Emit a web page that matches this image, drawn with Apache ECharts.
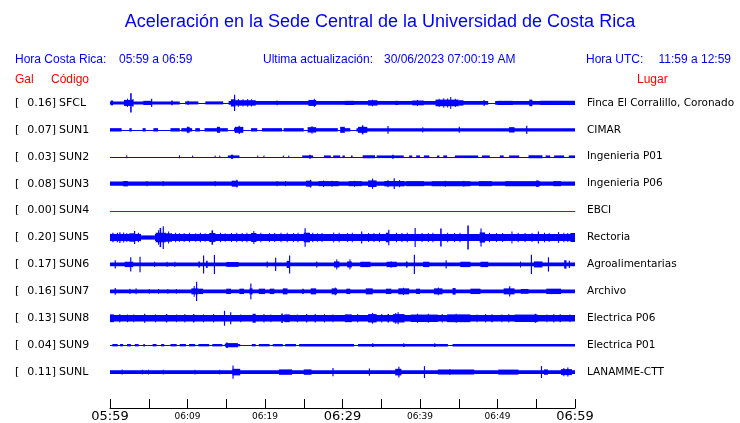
<!DOCTYPE html>
<html>
<head>
<meta charset="utf-8">
<script src="https://cdn.jsdelivr.net/npm/echarts@6/dist/echarts.min.js"></script>
<style>
  html, body { margin: 0; padding: 0; background: #fff; }
  #acel { width: 740px; height: 423px; }
</style>
</head>
<body>
<div id="acel"></div>
<script>
// estaciones
var codes = ['SFCL', 'SUN1', 'SUN2', 'SUN3', 'SUN4', 'SUN5', 'SUN6', 'SUN7', 'SUN8', 'SUN9', 'SUNL'];
var peakGal = [0.16, 0.07, 0.03, 0.08, 0.00, 0.20, 0.17, 0.16, 0.13, 0.04, 0.11];
var places = ['Finca El Corralillo, Coronado', 'CIMAR', 'Ingenieria P01', 'Ingenieria P06', 'EBCI',
  'Rectoria', 'Agroalimentarias', 'Archivo', 'Electrica P06', 'Electrica P01', 'LANAMME-CTT'];

// etiquetas del eje de tiempo (cada 10 min)
var timeLabels = ['05:59', '06:09', '06:19', '06:29', '06:39', '06:49', '06:59'];
var bigLabels = ['05:59', '06:29', '06:59'];

// envolvente de cada traza: [min inicio, min fin, amplitud (gal)]
var sfcl = [[0, 60, 0],
  [0, 9, 0.025], [9.7, 11.4, 0.025], [12.3, 14.6, 0.025], [15.3, 48.8, 0.03], [49.7, 60, 0.03],
  [0.1, 0.4, 0.04], [1.8, 3.0, 0.05], [2.2, 2.3, 0.07], [2.6, 2.8, 0.16], [2.9, 3.0, 0.065],
  [4.3, 5.4, 0.035], [5.3, 5.45, 0.07], [7.9, 8.1, 0.04], [10.0, 10.15, 0.035],
  [15.6, 16.2, 0.06], [16.0, 16.15, 0.135], [16.2, 18.8, 0.045], [16.5, 16.6, 0.065], [17.1, 17.2, 0.06],
  [17.7, 17.8, 0.065], [18.2, 18.3, 0.06], [21.5, 21.6, 0.04], [25.6, 26.6, 0.05], [26.3, 26.4, 0.07],
  [30.3, 31.5, 0.035], [33.3, 34.5, 0.045], [33.8, 33.9, 0.055], [36.8, 37.2, 0.035], [39.0, 40.5, 0.04],
  [39.6, 39.7, 0.05], [42.0, 45.0, 0.055], [42.4, 42.5, 0.07], [43.0, 43.1, 0.08], [43.5, 43.6, 0.075],
  [43.9, 44.0, 0.1], [44.5, 44.6, 0.07], [45.0, 45.6, 0.045], [48.2, 48.35, 0.05],
  [50.0, 52.0, 0.035], [54.1, 54.5, 0.055], [55.5, 60, 0.035]];
var sun1 = [[0, 60, 0],
  [0, 1.5, 0.028], [2.5, 2.8, 0.028], [4.2, 4.6, 0.028], [5.6, 6.2, 0.028], [7.8, 9.0, 0.028],
  [9.2, 10.6, 0.028], [11.0, 11.6, 0.028], [12.2, 15.2, 0.028], [16.0, 16.6, 0.028], [18.2, 19.0, 0.028],
  [19.6, 22.2, 0.028], [22.4, 25.0, 0.028], [25.6, 29.4, 0.028], [29.8, 31.0, 0.028], [31.8, 60, 0.028],
  [9.9, 10.3, 0.045], [10.0, 10.1, 0.055], [13.8, 14.2, 0.05], [16.1, 17.2, 0.05], [16.6, 16.75, 0.07],
  [25.5, 26.6, 0.045], [26.0, 26.1, 0.065], [29.7, 30.3, 0.05], [32.0, 33.2, 0.05], [32.5, 32.7, 0.075],
  [35.8, 35.95, 0.065], [40.3, 40.4, 0.045], [45.0, 45.15, 0.05], [51.5, 52.2, 0.045], [53.7, 53.85, 0.07]];
var sun2 = [[0, 60, 0],
  [2.1, 2.2, 0.025], [8.9, 9.0, 0.025], [10.6, 10.7, 0.02], [13.5, 13.6, 0.02], [14.1, 14.2, 0.02],
  [15.2, 16.7, 0.022], [15.6, 15.9, 0.035], [19.0, 19.1, 0.02], [19.8, 19.9, 0.02], [22.3, 22.4, 0.02],
  [23.0, 23.1, 0.02], [24.8, 26.2, 0.022], [25.7, 25.9, 0.035], [27.6, 28.5, 0.022], [28.8, 29.7, 0.022],
  [30.0, 30.3, 0.022], [31.1, 31.3, 0.022], [32.6, 34.2, 0.025], [34.4, 37.9, 0.022], [36.4, 36.6, 0.035],
  [38.6, 39.0, 0.022], [39.5, 40.0, 0.022], [40.5, 41.2, 0.022], [42.2, 42.5, 0.022], [43.0, 43.5, 0.022],
  [44.5, 47.5, 0.022], [48.0, 49.0, 0.022], [50.3, 50.8, 0.022], [51.5, 52.8, 0.022], [54.0, 55.8, 0.025],
  [56.2, 56.8, 0.022], [57.3, 58.6, 0.022], [59.2, 60, 0.022]];
var sun3 = [[0, 60, 0],
  [0, 60, 0.035],
  [1.7, 2.3, 0.045], [4.7, 4.8, 0.045], [6.8, 6.9, 0.045], [13.5, 13.6, 0.045], [15.7, 16.5, 0.05],
  [16.3, 16.45, 0.065], [21.5, 21.6, 0.045], [22.6, 22.7, 0.045], [25.3, 26.0, 0.05], [25.8, 25.95, 0.065],
  [26.9, 29.5, 0.042], [27.5, 27.6, 0.055], [28.6, 28.7, 0.05], [30.8, 32.5, 0.042], [31.5, 31.6, 0.05],
  [33.3, 34.4, 0.055], [33.8, 33.95, 0.085], [35.4, 38.0, 0.045], [35.8, 35.9, 0.06], [36.6, 36.75, 0.09],
  [37.3, 37.4, 0.06], [38.2, 40.5, 0.042], [41.5, 46.5, 0.042], [43.2, 43.3, 0.05], [45.6, 45.7, 0.05],
  [47.6, 49.3, 0.042], [51.0, 55.5, 0.042], [55.0, 55.3, 0.055], [57.2, 58.2, 0.042]];
var sun4 = [[0, 60, 0]];
var sun5 = [[0, 60, 0],
  [0, 4, 0.06], [4, 5.8, 0.035], [5.8, 60, 0.06],
  [0.3, 0.45, 0.08], [0.9, 1.0, 0.08], [1.2, 1.35, 0.09], [1.7, 1.8, 0.085], [2.1, 2.2, 0.07],
  [2.5, 3.2, 0.07], [3.1, 3.25, 0.11], [3.6, 3.7, 0.08], [5.9, 7.2, 0.08], [6.2, 6.3, 0.12],
  [6.4, 6.6, 0.16], [6.8, 6.95, 0.19], [7.2, 8.0, 0.07], [7.5, 7.6, 0.1], [8.4, 8.5, 0.08], [8.9, 9.0, 0.07],
  [9.5, 9.6, 0.075], [10.2, 10.3, 0.08], [11.0, 11.1, 0.07], [11.6, 11.7, 0.08], [12.2, 12.3, 0.07],
  [12.8, 13.6, 0.075], [13.1, 13.3, 0.12], [14.2, 14.3, 0.08], [14.8, 14.9, 0.07], [15.6, 15.7, 0.075],
  [16.3, 16.4, 0.08], [17.0, 17.1, 0.075], [17.6, 17.7, 0.08], [18.2, 18.9, 0.075], [18.5, 18.6, 0.11],
  [19.4, 19.5, 0.08], [20.5, 20.6, 0.075], [21.2, 21.3, 0.075], [22.0, 22.1, 0.08], [22.8, 22.9, 0.08],
  [23.6, 23.7, 0.075], [24.2, 24.3, 0.08], [25.0, 25.8, 0.08], [25.1, 25.25, 0.155], [26.1, 26.2, 0.08],
  [26.7, 26.8, 0.07], [27.3, 27.4, 0.075], [28.8, 28.9, 0.085], [29.5, 29.6, 0.08], [30.6, 30.7, 0.075],
  [31.2, 31.3, 0.08], [32.4, 32.55, 0.1], [33.3, 33.4, 0.075], [34.0, 34.1, 0.075], [34.7, 34.8, 0.08],
  [35.6, 36.0, 0.08], [35.9, 36.05, 0.13], [36.9, 37.0, 0.08], [37.6, 37.7, 0.075], [38.3, 38.4, 0.08],
  [39.3, 39.45, 0.16], [40.2, 40.3, 0.075], [41.0, 41.1, 0.075], [41.6, 41.7, 0.08], [42.6, 42.8, 0.15],
  [43.5, 43.6, 0.08], [44.4, 44.5, 0.075], [45.1, 45.2, 0.08], [46.1, 46.3, 0.2], [47.7, 48.4, 0.085],
  [47.8, 47.95, 0.15], [48.9, 49.0, 0.08], [49.8, 49.9, 0.075], [50.6, 50.7, 0.075], [51.8, 51.9, 0.1],
  [52.6, 52.7, 0.08], [53.5, 53.6, 0.075], [54.4, 54.5, 0.075], [55.2, 55.35, 0.1], [56.0, 56.1, 0.08],
  [56.6, 56.7, 0.075], [57.8, 57.95, 0.09], [58.5, 58.6, 0.08], [59.0, 59.1, 0.075], [59.4, 60, 0.075]];
var sun6 = [[0, 60, 0],
  [0, 60, 0.032],
  [0.6, 0.75, 0.07], [1.9, 3.0, 0.045], [2.6, 2.75, 0.12], [3.8, 3.95, 0.13], [5.7, 5.8, 0.045],
  [7.3, 7.4, 0.045], [8.3, 8.4, 0.045], [11.4, 11.6, 0.05], [12.0, 12.15, 0.15], [12.4, 12.6, 0.06],
  [13.4, 13.55, 0.16], [15.0, 16.6, 0.04], [20.2, 20.35, 0.05], [21.3, 21.45, 0.11], [22.8, 23.1, 0.06],
  [23.1, 23.25, 0.15], [26.6, 26.75, 0.05], [28.9, 29.6, 0.05], [29.2, 29.3, 0.085], [30.6, 31.2, 0.05],
  [30.9, 31.0, 0.085], [32.3, 33.6, 0.045], [35.7, 37.0, 0.045], [36.2, 36.3, 0.055], [38.2, 38.4, 0.05],
  [39.2, 39.35, 0.16], [40.4, 41.2, 0.045], [43.3, 43.45, 0.07], [45.2, 46.5, 0.045], [47.8, 48.8, 0.045],
  [52.9, 53.0, 0.05], [54.3, 54.45, 0.16], [54.7, 55.8, 0.05], [56.5, 56.65, 0.12], [58.6, 58.9, 0.07],
  [59.2, 59.35, 0.06]];
var sun7 = [[0, 60, 0],
  [0, 60, 0.032],
  [0.6, 0.75, 0.055], [2.5, 2.6, 0.045], [3.3, 3.4, 0.05], [5.0, 5.1, 0.04], [6.2, 6.3, 0.04],
  [7.4, 7.5, 0.04], [8.5, 8.6, 0.04], [10.5, 11.4, 0.05], [10.8, 10.9, 0.09], [11.1, 11.25, 0.16],
  [11.4, 12.0, 0.045], [15.0, 15.6, 0.045], [16.7, 17.3, 0.045], [18.0, 18.4, 0.05], [18.1, 18.25, 0.13],
  [19.2, 20.0, 0.045], [20.6, 21.2, 0.045], [22.3, 22.9, 0.05], [24.8, 25.0, 0.045], [25.9, 26.6, 0.05],
  [28.6, 29.3, 0.05], [29.0, 29.1, 0.065], [30.5, 31.0, 0.045], [33.0, 33.9, 0.05], [35.6, 36.3, 0.045],
  [37.2, 38.6, 0.05], [37.8, 37.9, 0.06], [39.5, 40.0, 0.045], [41.8, 42.9, 0.05], [42.3, 42.4, 0.065],
  [44.2, 44.6, 0.055], [46.5, 47.8, 0.045], [50.8, 52.2, 0.05], [51.5, 51.65, 0.085], [53.0, 54.0, 0.04],
  [56.3, 58.2, 0.045]];
var sun8 = [[0, 60, 0],
  [0, 60, 0.055],
  [0, 0.5, 0.065], [1.2, 1.3, 0.07], [2.2, 2.3, 0.065], [3.0, 3.1, 0.065], [4.4, 4.55, 0.075],
  [5.8, 5.9, 0.065], [7.2, 7.4, 0.07], [8.5, 8.6, 0.065], [9.6, 9.7, 0.07], [10.7, 10.9, 0.07],
  [12.0, 12.1, 0.065], [13.3, 13.4, 0.07], [14.7, 14.85, 0.125], [15.5, 15.65, 0.1], [16.8, 16.9, 0.065],
  [18.4, 18.8, 0.075], [19.8, 19.9, 0.07], [20.7, 20.8, 0.065], [22.1, 22.3, 0.08], [22.5, 23.2, 0.065],
  [24.1, 24.2, 0.065], [25.3, 25.45, 0.07], [26.4, 26.55, 0.07], [27.6, 27.7, 0.07], [28.7, 28.8, 0.065],
  [30.3, 31.2, 0.065], [31.9, 32.0, 0.07], [33.3, 34.4, 0.07], [33.8, 33.95, 0.09], [35.0, 35.1, 0.07],
  [35.8, 36.0, 0.07], [36.5, 38.0, 0.07], [36.8, 36.9, 0.09], [37.1, 37.25, 0.1], [38.8, 42.3, 0.062],
  [39.6, 39.7, 0.075], [41.0, 41.1, 0.075], [42.8, 42.9, 0.07], [43.5, 46.5, 0.065], [44.6, 44.7, 0.075],
  [47.3, 47.4, 0.065], [48.4, 48.5, 0.07], [49.2, 49.4, 0.065], [50.5, 50.6, 0.065], [51.4, 51.5, 0.07],
  [52.2, 55.2, 0.062], [54.8, 55.0, 0.075], [56.3, 56.4, 0.065], [57.2, 57.3, 0.07], [58.0, 58.2, 0.065],
  [59.3, 59.4, 0.065]];
var sun9 = [[0, 60, 0],
  [0.3, 1.0, 0.02], [1.3, 1.7, 0.02], [2.2, 2.7, 0.02], [3.2, 3.7, 0.02], [4.3, 4.5, 0.02], [5.5, 6.0, 0.02],
  [6.6, 7.0, 0.02], [7.8, 8.6, 0.02], [9.0, 9.8, 0.02], [10.2, 11.0, 0.02], [11.4, 12.8, 0.02],
  [13.2, 14.5, 0.02], [14.8, 16.8, 0.02], [18.3, 18.8, 0.02], [19.2, 20.6, 0.02], [21.0, 22.3, 0.02],
  [22.6, 24.0, 0.02], [24.4, 31.5, 0.02], [32.0, 43.6, 0.02], [44.2, 60, 0.02],
  [14.9, 16.5, 0.035], [15.0, 15.2, 0.045], [33.8, 34.0, 0.03], [37.8, 38.0, 0.03], [41.8, 42.0, 0.03]];
var sunl = [[0, 60, 0],
  [0, 60, 0.032],
  [1.5, 1.6, 0.045], [4.1, 4.2, 0.04], [4.9, 5.0, 0.04], [6.8, 6.9, 0.04], [10.9, 11.0, 0.04],
  [14.1, 14.2, 0.04], [15.8, 16.8, 0.055], [15.8, 15.95, 0.11], [21.8, 23.5, 0.045], [25.0, 26.0, 0.045],
  [28.7, 28.85, 0.07], [33.4, 33.55, 0.06], [36.8, 37.6, 0.055], [37.2, 37.35, 0.09], [40.5, 40.65, 0.1],
  [42.3, 47.0, 0.042], [43.8, 43.9, 0.05], [50.1, 52.7, 0.042], [55.6, 55.75, 0.1], [56.0, 56.5, 0.045],
  [58.2, 59.6, 0.05], [58.5, 58.6, 0.07], [59.0, 59.15, 0.075]];

var traces = [sfcl, sun1, sun2, sun3, sun4, sun5, sun6, sun7, sun8, sun9, sunl];

var STEP = 0.45; // separacion entre trazas (gal)
var chart = echarts.init(document.getElementById('acel'));

function offsetOf(i) {
  return -i * STEP;
}

function traceRenderer(off) {
  return function (params, api) {
    var a = api.value(2);
    var p0 = api.coord([api.value(0), off + a]);
    var p1 = api.coord([api.value(1), off - a]);
    var h = p1[1] - p0[1];
    return {
      type: 'rect',
      shape: {
        x: p0[0],
        y: h < 1 ? Math.round(p0[1]) : p0[1],
        width: Math.max(p1[0] - p0[0], 1),
        height: Math.max(h, 1)
      },
      style: { fill: api.visual('color') }
    };
  };
}

var series = [];
for (var i = 0; i < traces.length; i++) {
  series.push({
    name: codes[i],
    type: 'custom',
    renderItem: traceRenderer(offsetOf(i)),
    itemStyle: { color: peakGal[i] > 0 ? '#0000ff' : '#d00000' },
    encode: { x: [0, 1], y: 2 },
    silent: true,
    animation: false,
    data: traces[i]
  });
}

var options = {
  animation: false,
  grid: { left: 110, right: 165, top: 76, bottom: 14 },
  xAxis: {
    type: 'value',
    min: 0,
    max: 60,
    interval: 5,
    splitLine: { show: false },
    axisLine: { onZero: false, lineStyle: { color: '#000', width: 1 } },
    axisTick: { inside: true, length: 9, lineStyle: { color: '#000' } },
    axisLabel: {
      margin: 2,
      color: '#000',
      fontFamily: 'DejaVu Sans',
      formatter: function (v) {
        if (v % 10 !== 0) return '';
        var t = timeLabels[v / 10];
        return bigLabels.indexOf(t) >= 0 ? '{big|' + t + '}' : '{small|' + t + '}';
      },
      rich: {
        big: { fontSize: 13, fontFamily: 'DejaVu Sans', color: '#000' },
        small: { fontSize: 9, fontFamily: 'DejaVu Sans', color: '#000', padding: [2, 0, 0, 0] }
      }
    }
  },
  yAxis: {
    type: 'value',
    min: 0.45 - 5.55,
    max: 0.45,
    show: false
  },
  series: series
};
chart.setOption(options);

// textos de cabecera y etiquetas de cada traza
var blue = '#0000ff';
var red = '#ff0000';
var hf = '12px "Liberation Sans"';
var g = [
  { type: 'text', x: 380, y: 22, style: { text: 'Aceleración en la Sede Central de la Universidad de Costa Rica', fill: blue, font: '18px "Liberation Sans"', textAlign: 'center', textVerticalAlign: 'middle' } },
  { type: 'text', x: 15, y: 60, style: { text: 'Hora Costa Rica:', fill: blue, font: hf, textVerticalAlign: 'middle' } },
  { type: 'text', x: 119, y: 60, style: { text: '05:59 a 06:59', fill: blue, font: hf, textVerticalAlign: 'middle' } },
  { type: 'text', x: 263, y: 60, style: { text: 'Ultima actualización:', fill: blue, font: hf, textVerticalAlign: 'middle' } },
  { type: 'text', x: 384, y: 60, style: { text: '30/06/2023 07:00:19 AM', fill: blue, font: hf, textVerticalAlign: 'middle' } },
  { type: 'text', x: 586, y: 60, style: { text: 'Hora UTC:', fill: blue, font: hf, textVerticalAlign: 'middle' } },
  { type: 'text', x: 731, y: 60, style: { text: '11:59 a 12:59', fill: blue, font: hf, textAlign: 'right', textVerticalAlign: 'middle' } },
  { type: 'text', x: 15, y: 80, style: { text: 'Gal', fill: red, font: hf, textVerticalAlign: 'middle' } },
  { type: 'text', x: 51, y: 80, style: { text: 'Código', fill: red, font: hf, textVerticalAlign: 'middle' } },
  { type: 'text', x: 637, y: 80, style: { text: 'Lugar', fill: red, font: hf, textVerticalAlign: 'middle' } }
];
for (var k = 0; k < codes.length; k++) {
  var y = chart.convertToPixel({ yAxisIndex: 0 }, offsetOf(k));
  var f = '11px "DejaVu Sans"';
  g.push({ type: 'text', x: 15, y: y, style: { text: '[', fill: '#000', font: f, textVerticalAlign: 'middle' } });
  g.push({ type: 'text', x: 56, y: y, style: { text: peakGal[k].toFixed(2) + ']', fill: '#000', font: f, textAlign: 'right', textVerticalAlign: 'middle' } });
  g.push({ type: 'text', x: 59, y: y, style: { text: codes[k], fill: '#000', font: f, textVerticalAlign: 'middle' } });
  g.push({ type: 'text', x: 587, y: y, style: { text: places[k], fill: '#000', font: '10.5px "DejaVu Sans"', textVerticalAlign: 'middle' } });
}
chart.setOption({ graphic: g });
</script>
</body>
</html>
